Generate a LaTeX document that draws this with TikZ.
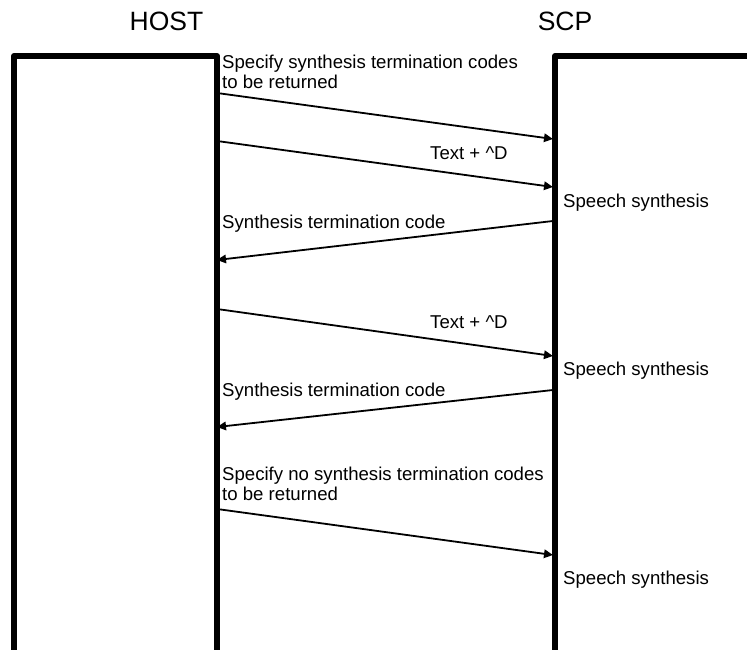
\documentclass[tikz,border=0pt]{standalone}
\usepackage{fontspec}
\setmainfont{Liberation Sans}
\usetikzlibrary{arrows.meta}
\begin{document}
\begin{tikzpicture}[x=1pt,y=-1pt,
    lbl/.style={inner sep=0pt,font=\fontsize{18.6}{20}\selectfont},
    ttl/.style={inner sep=0pt,font=\fontsize{26.5}{28}\selectfont},
    msg/.style={line width=1.8pt,-{Triangle[length=9pt,width=8.5pt]}}]
      \useasboundingbox (0,0) rectangle (747,650);
      % lifelines
      \draw[line width=6pt,line join=round] (14,650) -- (14,56) -- (217,56) -- (217,650);
      \draw[line width=6pt,line join=round] (555,650) -- (555,56) -- (750,56);
      \draw
        (166.5,31) node[ttl,anchor=base] (host){HOST}
        (565,31) node[ttl,anchor=base] (scp){SCP}
        (222,55) node[lbl,anchor=north west,align=left] (spec){Specify synthesis termination codes\\to be returned}
        (430,160) node[lbl,anchor=base west] (txt1){Text + \^{}D}
        (563,207) node[lbl,anchor=base west] (sp1){Speech synthesis}
        (222,228) node[lbl,anchor=base west] (term1){Synthesis termination code}
        (430,328) node[lbl,anchor=base west] (txt2){Text + \^{}D}
        (563,375) node[lbl,anchor=base west] (sp2){Speech synthesis}
        (222,396) node[lbl,anchor=base west] (term2){Synthesis termination code}
        (222,467) node[lbl,anchor=north west,align=left] (nospec){Specify no synthesis termination codes\\to be returned}
        (563,584) node[lbl,anchor=base west] (sp3){Speech synthesis};
      \draw
        (217,93) coordinate (h1)
        (217,141) coordinate (h2)
        (217,260) coordinate (h3)
        (217,309) coordinate (h4)
        (217,427) coordinate (h5)
        (217,509) coordinate (h6)
        (553,139) coordinate (s1)
        (553,187) coordinate (s2)
        (553,221) coordinate (s3)
        (553,356) coordinate (s4)
        (553,390) coordinate (s5)
        (553,555) coordinate (s6);
      \begin{scope}[msg]
        \draw (h1) to (s1);
        \draw (h2) to (s2);
        \draw (s3) to (h3);
        \draw (h4) to (s4);
        \draw (s5) to (h5);
        \draw (h6) to (s6);
      \end{scope}
    \end{tikzpicture}
\end{document}
